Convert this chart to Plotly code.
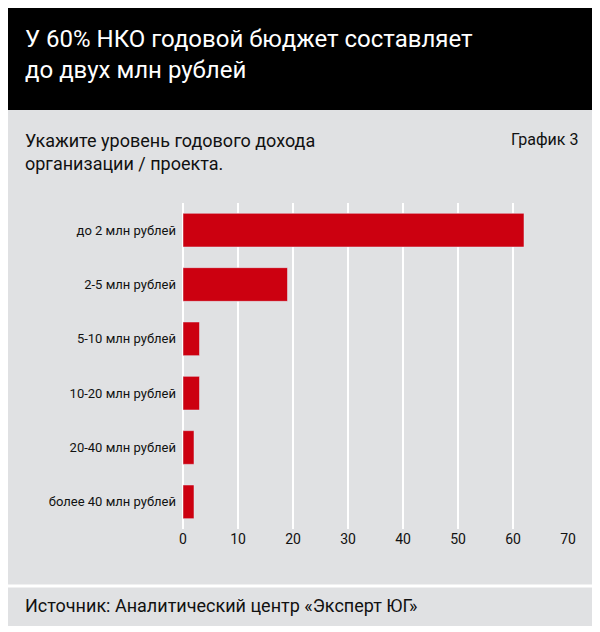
import plotly.graph_objects as go

categories = ["до 2 млн рублей", "2-5 млн рублей", "5-10 млн рублей",
              "10-20 млн рублей", "20-40 млн рублей", "более 40 млн рублей"]
values = [62, 19, 3, 3, 2, 2]
tick_vals = [0, 10, 20, 30, 40, 50, 60, 70]

FONT = "Liberation Sans Narrow, Roboto, sans-serif"
BG = "#e0e1e3"
PH = 326.0  # plot height in px
PW = 385.0  # plot width in px

fig = go.Figure()
fig.add_trace(go.Bar(
    y=categories, x=values, orientation="h",
    marker_color="#cc0010", width=0.62,
))

fig.update_layout(
    width=600, height=632,
    margin=dict(l=175, r=40, t=195, b=111),
    paper_bgcolor=BG, plot_bgcolor=BG,
    font=dict(family=FONT, size=13, color="#111"),
    showlegend=False,
    xaxis=dict(range=[0, 70], tickvals=tick_vals, showgrid=True,
               gridcolor="white", gridwidth=1.5, zeroline=True,
               zerolinecolor="white", zerolinewidth=2, ticks="",
               tickfont=dict(size=14), fixedrange=True),
    yaxis=dict(autorange="reversed", ticks="", ticklabelstandoff=6,
               tickfont=dict(size=13), showgrid=False),
    shapes=[
        dict(type="rect", xref="paper", yref="paper", x0=-0.5, x1=1.2,
             y0=1 + 93 / PH, y1=1 + 200 / PH,
             fillcolor="black", line_width=0, layer="below"),
        dict(type="line", xref="paper", yref="paper", x0=-0.5, x1=1.2,
             y0=-57 / PH, y1=-57 / PH, line=dict(color="white", width=3)),
        dict(type="rect", xref="paper", yref="paper", x0=-0.5, x1=1.2,
             y0=-115 / PH, y1=-97 / PH, fillcolor="white", line_width=0),
    ],
    annotations=[
        dict(text="У 60% НКО годовой бюджет составляет<br>до двух млн рублей",
             xref="paper", yref="paper", x=-160 / PW, y=1 + 180 / PH,
             xanchor="left", yanchor="top", showarrow=False, align="left",
             font=dict(size=24, color="white", family=FONT)),
        dict(text="Укажите уровень годового дохода<br>организации / проекта.",
             xref="paper", yref="paper", x=-160 / PW, y=1 + 75 / PH,
             xanchor="left", yanchor="top", showarrow=False, align="left",
             font=dict(size=18, color="#111", family=FONT)),
        dict(text="График 3", xref="paper", yref="paper", x=1 + 12 / PW,
             y=1 + 75 / PH, xanchor="right", yanchor="top", showarrow=False,
             font=dict(size=16, color="#111", family=FONT)),
        dict(text="Источник: Аналитический центр «Эксперт ЮГ»",
             xref="paper", yref="paper", x=-160 / PW, y=-64 / PH,
             xanchor="left", yanchor="top", showarrow=False,
             font=dict(size=18, color="#111", family=FONT)),
    ],
)

fig.write_html("out.html")
